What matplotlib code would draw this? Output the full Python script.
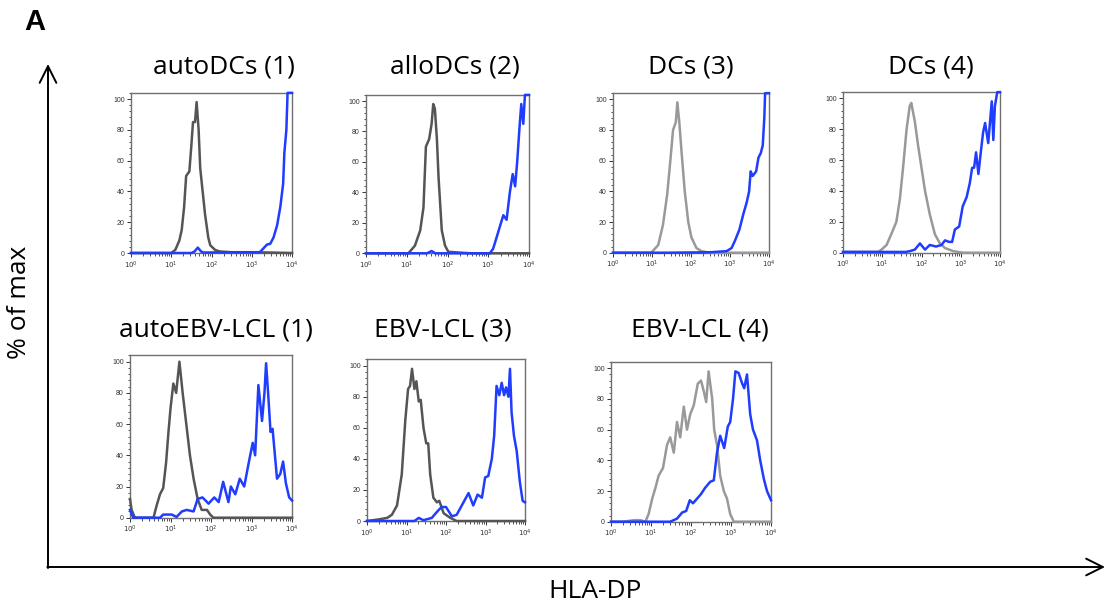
import matplotlib
matplotlib.use("Agg")
import numpy as np
from matplotlib import pyplot as plt
from matplotlib.ticker import FixedLocator, MultipleLocator, NullFormatter

# panel titles
titles = ["autoDCs (1)", "alloDCs (2)", "DCs (3)", "DCs (4)",
          "autoEBV-LCL (1)", "EBV-LCL (3)", "EBV-LCL (4)"]

# control (grey) curves, x in log10 units, y in % of max
ctrl_x = [
    [0, 1.0, 1.1, 1.2, 1.26, 1.32, 1.37, 1.45, 1.5, 1.54, 1.59, 1.63, 1.68, 1.72, 1.76, 1.84, 1.92, 1.97, 2.09, 2.2, 2.5, 3.0, 3.5, 4.0],
    [0, 1.04, 1.2, 1.33, 1.41, 1.47, 1.55, 1.61, 1.65, 1.69, 1.74, 1.78, 1.86, 1.94, 2.02, 2.39, 2.6, 4.0],
    [0, 0.98, 1.16, 1.28, 1.39, 1.47, 1.54, 1.61, 1.65, 1.7, 1.76, 1.84, 1.93, 2.01, 2.14, 2.27, 2.48, 4.0],
    [0, 0.9, 0.98, 1.11, 1.23, 1.36, 1.45, 1.53, 1.62, 1.7, 1.74, 1.83, 1.91, 2.0, 2.09, 2.21, 2.34, 2.47, 2.6, 2.81, 3.06, 4.0],
    [0, 0.04, 0.12, 0.58, 0.66, 0.74, 0.82, 0.89, 0.95, 1.0, 1.07, 1.14, 1.22, 1.3, 1.39, 1.48, 1.57, 1.67, 1.77, 1.9, 1.98, 2.06, 4.0],
    [0, 0.29, 0.51, 0.63, 0.76, 0.88, 0.97, 1.04, 1.09, 1.14, 1.2, 1.25, 1.31, 1.36, 1.43, 1.5, 1.55, 1.6, 1.68, 1.77, 1.83, 1.94, 2.11, 2.27, 4.0],
    [0, 0.3, 0.57, 0.73, 0.86, 0.94, 1.03, 1.11, 1.19, 1.3, 1.4, 1.48, 1.57, 1.65, 1.73, 1.82, 1.9, 1.98, 2.07, 2.17, 2.25, 2.32, 2.38, 2.44, 2.53, 2.58, 2.65, 2.73, 2.82, 2.9, 2.98, 3.07, 4.0],
]
ctrl_y = [
    [0, 0, 2, 8, 15, 30, 50, 53, 70, 85, 85, 98, 80, 55, 45, 25, 10, 5, 2, 1, 0.5, 0.5, 0.3, 0],
    [0, 0, 5, 15, 30, 70, 75, 85, 98, 95, 75, 50, 15, 5, 1, 0.3, 0, 0],
    [0, 0, 5, 18, 38, 60, 80, 85, 98, 85, 65, 40, 20, 10, 3, 1, 0, 0],
    [0.5, 0.5, 2, 5, 12, 20, 35, 55, 80, 95, 97, 85, 70, 55, 40, 25, 12, 6, 3, 1, 0, 0],
    [12, 5, 0, 0, 8, 15, 19, 35, 55, 70, 86, 80, 100, 80, 60, 40, 25, 12, 5, 5, 2, 0, 0],
    [0, 1, 2, 4, 10, 30, 65, 85, 87, 98, 85, 90, 77, 78, 60, 50, 50, 30, 15, 12, 13, 5, 2, 0, 0],
    [0, 0, 1, 1, 0, 5, 15, 22, 30, 35, 50, 55, 45, 65, 55, 75, 60, 70, 76, 90, 92, 85, 78, 98, 80, 60, 50, 30, 20, 15, 5, 0, 0],
]
ctrl_color = ["#555555", "#555555", "#999999", "#999999", "#555555", "#555555", "#999999"]

# HLA-DP stained (blue) curves
dp_x = [
    [0, 1.5, 1.58, 1.66, 1.74, 1.8, 2.5, 3.2, 3.29, 3.38, 3.46, 3.54, 3.63, 3.71, 3.78, 3.81, 3.86, 3.89, 4.0],
    [0, 1.5, 1.61, 1.7, 3.04, 3.12, 3.2, 3.29, 3.37, 3.45, 3.53, 3.6, 3.66, 3.71, 3.76, 3.81, 3.86, 3.9, 4.0],
    [0, 1.4, 2.5, 2.91, 3.04, 3.13, 3.24, 3.34, 3.43, 3.49, 3.53, 3.58, 3.67, 3.73, 3.79, 3.84, 3.88, 3.9, 4.0],
    [0, 1.6, 1.7, 1.83, 1.96, 2.09, 2.21, 2.37, 2.51, 2.6, 2.7, 2.78, 2.85, 2.96, 3.05, 3.15, 3.23, 3.29, 3.34, 3.39, 3.45, 3.51, 3.57, 3.62, 3.7, 3.79, 3.83, 3.87, 3.93, 4.0],
    [0, 0.08, 0.74, 0.82, 1.03, 1.15, 1.28, 1.4, 1.57, 1.67, 1.79, 1.94, 2.08, 2.19, 2.3, 2.43, 2.49, 2.6, 2.71, 2.82, 2.93, 3.03, 3.09, 3.17, 3.26, 3.32, 3.36, 3.41, 3.47, 3.52, 3.63, 3.71, 3.78, 3.85, 3.93, 4.0],
    [0, 1.2, 1.31, 1.43, 1.64, 1.81, 1.89, 2.0, 2.15, 2.27, 2.4, 2.57, 2.69, 2.8, 2.91, 2.99, 3.07, 3.16, 3.22, 3.28, 3.35, 3.41, 3.47, 3.52, 3.58, 3.62, 3.66, 3.72, 3.79, 3.87, 3.94, 4.0],
    [0, 1.48, 1.65, 1.78, 1.88, 1.97, 2.05, 2.15, 2.25, 2.35, 2.48, 2.57, 2.65, 2.73, 2.83, 2.92, 2.98, 3.05, 3.11, 3.19, 3.28, 3.33, 3.4, 3.48, 3.55, 3.65, 3.73, 3.82, 3.9, 4.0],
]
dp_y = [
    [0, 0, 1, 3.5, 1, 0.3, 0.5, 0.5, 3, 5.5, 6, 10, 18, 30, 45, 65, 80, 104, 104],
    [0, 0, 1.5, 0, 0, 3, 10, 18, 25, 22, 40, 52, 44, 60, 80, 98, 85, 104, 104],
    [0, 0, 0.3, 1, 3, 8, 15, 25, 33, 40, 53, 50, 53, 62, 65, 70, 88, 104, 104],
    [0.5, 0.5, 1, 2, 6, 2, 5, 4, 5, 8, 7, 7, 15, 17, 30, 36, 45, 55, 55, 65, 51, 65, 78, 84, 71, 98, 73, 95, 104, 104],
    [5, 0, 0, 2, 2, 0.5, 4, 5, 4, 12, 13, 9, 13, 10, 23, 10, 20, 15, 25, 20, 35, 48, 40, 85, 62, 80, 99, 80, 55, 57, 25, 28, 36, 22, 13, 11],
    [0, 0, 2, 0.5, 2, 7, 9, 9, 3, 4, 10, 18, 10, 17, 15, 28, 29, 40, 55, 87, 81, 89, 81, 86, 80, 98, 70, 55, 45, 25, 13, 12],
    [0, 0, 2, 6, 7, 14, 12, 15, 18, 22, 26, 27, 45, 56, 48, 62, 65, 80, 98, 97, 90, 87, 96, 70, 60, 53, 40, 28, 20, 14],
]

W, H = 1106, 609
# panel boxes in pixels: left, right, y of 0 %, y of 100 %
boxes = [
    (131, 292, 253.0, 99.0), (366, 529, 253.3, 101.0), (613, 769, 252.7, 99.3), (843, 1000, 252.7, 98.3),
    (130, 292, 517.7, 361.7), (367, 525, 521.0, 365.7), (611, 771, 521.7, 368.3),
]
title_pos = [(224, 67), (455, 67), (691, 67), (931, 67), (216, 330), (443, 330), (700, 330)]
YTOP = 104

fig = plt.figure(figsize=(W / 100, H / 100), dpi=100)
blue = "#1f3cff"
label_font = "Open Sans"

for i in range(len(titles)):
    left, right, y0, y100 = boxes[i]
    top = y0 - (y0 - y100) * YTOP / 100
    ax = fig.add_axes([left / W, 1 - y0 / H, (right - left) / W, (y0 - top) / H])
    ax.plot(10 ** np.array(ctrl_x[i]), ctrl_y[i], color=ctrl_color[i], lw=1.8, zorder=3, clip_on=False)
    ax.plot(10 ** np.array(dp_x[i]), dp_y[i], color=blue, lw=1.8, zorder=4, clip_on=False)
    ax.set_xscale("log")
    ax.set_xlim(1, 1e4)
    ax.set_ylim(0, YTOP)
    ax.set_xticks([1, 10, 100, 1000, 10000])
    ax.set_xticklabels([r"$10^{%d}$" % k for k in range(5)])
    ax.xaxis.set_minor_locator(FixedLocator([m * 10 ** k for k in range(4) for m in range(2, 10)]))
    ax.xaxis.set_minor_formatter(NullFormatter())
    ax.set_yticks([0, 20, 40, 60, 80, 100])
    ax.yaxis.set_minor_locator(MultipleLocator(4))
    for s in ax.spines.values():
        s.set_color("#707070")
        s.set_linewidth(1.0)
    ax.tick_params(which="major", length=3, width=0.7, pad=1.5, labelsize=5, colors="#333333")
    ax.tick_params(which="minor", length=1.8, width=0.6, colors="#333333")
    for lab in ax.get_yticklabels():
        lab.set_fontfamily("Liberation Sans")
    fig.text(title_pos[i][0] / W, 1 - title_pos[i][1] / H, titles[i], ha="center", va="center",
             fontsize=19, family=label_font)

# big frame with arrows
over = fig.add_axes([0, 0, 1, 1], zorder=-1)
over.set_xlim(0, W)
over.set_ylim(H, 0)
over.axis("off")
arrow = dict(arrowstyle="->,head_length=1.2,head_width=0.6", color="black", lw=1.4, shrinkA=0, shrinkB=0)
over.annotate("", xy=(48, 64), xytext=(48, 568), arrowprops=arrow)
over.annotate("", xy=(1105, 567), xytext=(47.3, 567), arrowprops=arrow)

fig.text(20 / W, 1 - 302 / H, "% of max", rotation=90, ha="center", va="center", fontsize=19, family=label_font)
fig.text(595 / W, 1 - 591 / H, "HLA-DP", ha="center", va="center", fontsize=19, family=label_font)
fig.text(35 / W, 1 - 22 / H, "A", ha="center", va="center", fontsize=21, fontweight="bold", family="Liberation Sans")

fig.savefig("out.png", dpi=100)
